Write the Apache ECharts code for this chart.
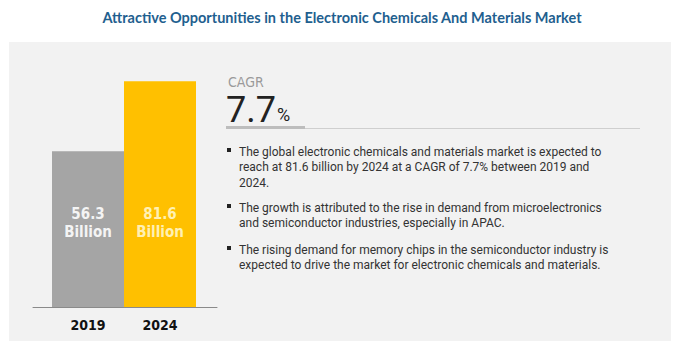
<!DOCTYPE html>
<html><head><meta charset="utf-8">
<script src="https://cdn.jsdelivr.net/npm/echarts@6/dist/echarts.min.js"></script>
<style>html,body{margin:0;padding:0;background:#fff}#c{width:684px;height:341px}</style>
</head><body><div id="c"></div>
<script>
const titleText = 'Attractive Opportunities in the Electronic Chemicals And Materials Market';
const categories = ['2019', '2024'];
const values = [56.3, 81.6];
const unitLabel = 'Billion';
const cagrLabel = 'CAGR';
const cagrValue = '7.7';
const bullets = [
  'The global electronic chemicals and materials market is expected to\nreach at 81.6 billion by 2024 at a CAGR of 7.7% between 2019 and\n2024.',
  'The growth is attributed to the rise in demand from microelectronics\nand semiconductor industries, especially in APAC.',
  'The rising demand for memory chips in the semiconductor industry is\nexpected to drive the market for electronic chemicals and materials.'
];

const barColors = ['#a5a5a5', '#ffc000'];
const labelColors = ['#f4f4f4', '#fff0b3'];
const narrow = '"Liberation Sans Narrow", "DejaVu Sans Condensed", Roboto, sans-serif';
const bodyFont = 'Roboto, "Liberation Sans", sans-serif';

const chart = echarts.init(document.getElementById('c'), null, {renderer: 'svg'});

const bulletTops = [144, 200, 242];
const bulletGraphics = [];
bullets.forEach((b, i) => {
  bulletGraphics.push({type: 'rect', left: 227, top: bulletTops[i] + 4, shape: {width: 4, height: 4}, style: {fill: '#222'}, z: 10});
  bulletGraphics.push({type: 'text', left: 239, top: bulletTops[i], z: 10,
    style: {text: b, fill: '#333', font: '12px ' + bodyFont, lineHeight: 15.5}});
});

chart.setOption({
  animation: false,
  backgroundColor: '#ffffff',
  title: {
    text: titleText, left: 'center', top: 5,
    textStyle: {color: '#1f5f8f', fontSize: 14.5, fontWeight: 'bold', fontFamily: 'Lato, sans-serif'}
  },
  graphic: [
    {type: 'rect', left: 9, top: 42, shape: {width: 662, height: 300}, style: {fill: '#f2f2f2'}, z: -10},
    {type: 'text', left: 228, top: 75, z: 10, style: {text: cagrLabel, fill: '#9a9a9a', font: '14px ' + narrow}},
    {type: 'text', left: 226, top: 92, z: 10, style: {
      text: '{v|' + cagrValue + '}{p|%}',
      rich: {
        v: {fontSize: 36, lineHeight: 30, fontFamily: bodyFont, fill: '#222', color: '#222'},
        p: {fontSize: 18, lineHeight: 30, fontFamily: bodyFont, fill: '#222', color: '#222', padding: [8, 0, 0, 1]}
      }
    }},
    {type: 'rect', left: 226, top: 126, shape: {width: 79, height: 3}, style: {fill: '#bdbdbd'}, z: 10},
    {type: 'rect', left: 305, top: 128, shape: {width: 335, height: 1}, style: {fill: '#cfcfcf'}, z: 10}
  ].concat(bulletGraphics),
  grid: [
    {left: 52, width: 144, top: 58, bottom: 34},
    {left: 33, width: 184, top: 58, bottom: 34}
  ],
  xAxis: [
    {type: 'category', gridIndex: 0, data: categories,
      axisLine: {show: false}, axisTick: {show: false},
      axisLabel: {margin: 11, color: '#111', fontSize: 14, fontWeight: 'bold', fontFamily: narrow}},
    {type: 'value', gridIndex: 1, min: 0, max: 1,
      axisLine: {show: true, onZero: false, lineStyle: {color: '#8a8a8a', width: 1}},
      axisTick: {show: false}, axisLabel: {show: false}, splitLine: {show: false}}
  ],
  yAxis: [
    {type: 'value', gridIndex: 0, min: 0, max: 90, show: false, splitLine: {show: false}},
    {type: 'value', gridIndex: 1, min: 0, max: 1, show: false, splitLine: {show: false}}
  ],
  series: [{
    type: 'bar', xAxisIndex: 0, yAxisIndex: 0,
    barCategoryGap: 0,
    data: values.map((v, i) => ({
      value: v,
      itemStyle: {color: barColors[i]},
      label: {color: labelColors[i]}
    })),
    label: {
      show: true, position: 'insideBottom', distance: 66,
      formatter: p => p.value + '\n' + unitLabel,
      fontSize: 15, fontWeight: 'bold', lineHeight: 18, fontFamily: narrow
    }
  }]
});
</script></body></html>
